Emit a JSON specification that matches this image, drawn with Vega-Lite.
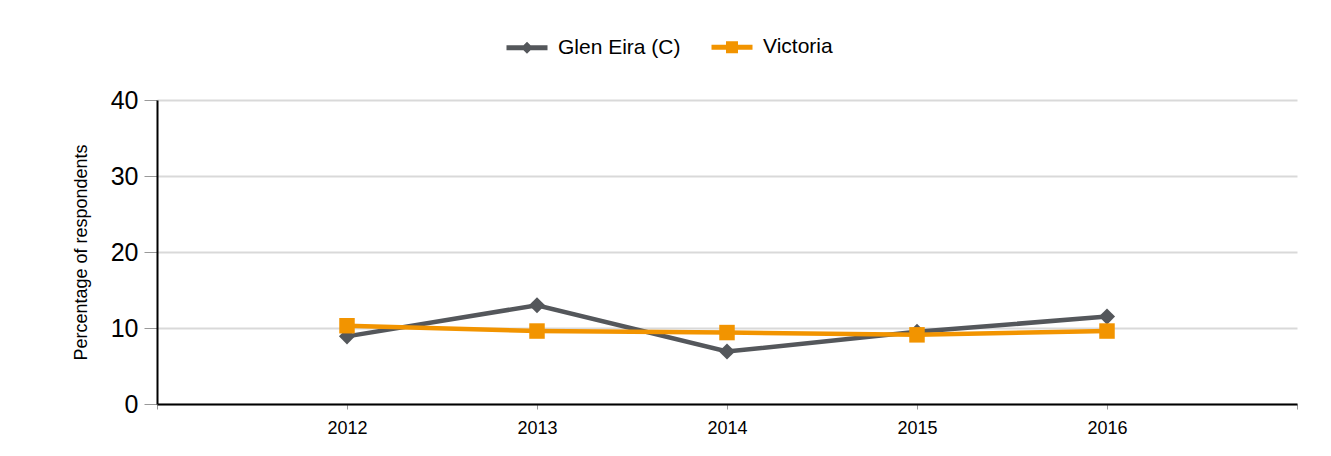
{
  "$schema": "https://vega.github.io/schema/vega-lite/v6.json",
  "width": 1140,
  "height": 304,
  "autosize": {"type": "none"},
  "padding": {"left": 157, "top": 100, "right": 34, "bottom": 52},
  "background": "white",
  "config": {
    "font": "Liberation Sans",
    "view": {"stroke": null},
    "axis": {"labelColor": "black", "titleColor": "black", "labelFont": "Liberation Sans", "titleFont": "Liberation Sans"}
  },
  "data": {
    "values": [
      {"year": 2012, "series": "Glen Eira (C)", "value": 8.9},
      {"year": 2013, "series": "Glen Eira (C)", "value": 13.0},
      {"year": 2014, "series": "Glen Eira (C)", "value": 6.9},
      {"year": 2015, "series": "Glen Eira (C)", "value": 9.5},
      {"year": 2016, "series": "Glen Eira (C)", "value": 11.5},
      {"year": 2012, "series": "Victoria", "value": 10.3},
      {"year": 2013, "series": "Victoria", "value": 9.6},
      {"year": 2014, "series": "Victoria", "value": 9.4},
      {"year": 2015, "series": "Victoria", "value": 9.1},
      {"year": 2016, "series": "Victoria", "value": 9.6}
    ]
  },
  "encoding": {
    "x": {
      "field": "year",
      "type": "quantitative",
      "scale": {"domain": [2011, 2017], "nice": false, "zero": false},
      "axis": {
        "values": [2011, 2012, 2013, 2014, 2015, 2016, 2017],
        "format": "d",
        "labelExpr": "datum.value == 2011 || datum.value == 2017 ? '' : datum.label",
        "title": null,
        "grid": false,
        "domainColor": "black",
        "domainWidth": 2,
        "tickColor": "#999999",
        "tickSize": 5,
        "labelFontSize": 18,
        "labelPadding": 10
      }
    },
    "y": {
      "field": "value",
      "type": "quantitative",
      "scale": {"domain": [0, 40], "nice": false},
      "axis": {
        "values": [0, 10, 20, 30, 40],
        "title": "Percentage of respondents",
        "titleFontSize": 18,
        "titleFontWeight": "normal",
        "titlePadding": 20,
        "labelFontSize": 25,
        "labelPadding": 6,
        "tickSize": 13,
        "tickColor": "#999999",
        "domainColor": "black",
        "domainWidth": 2,
        "gridColor": "#d9d9d9",
        "gridWidth": 2
      }
    },
    "color": {
      "field": "series",
      "type": "nominal",
      "scale": {"domain": ["Glen Eira (C)", "Victoria"], "range": ["#54575B", "#F29400"]},
      "legend": {
        "title": null,
        "orient": "none",
        "direction": "horizontal",
        "legendX": 347,
        "legendY": -76,
        "symbolSize": 1681,
        "symbolOpacity": 1,
        "labelFontSize": 21,
        "labelColor": "black",
        "labelOffset": 8,
        "columnPadding": 20,
        "labelLimit": 300,
        "encode": {
          "symbols": {
            "update": {
              "shape": {"signal": "datum.value === 'Glen Eira (C)' ? 'M-1,0H1M0,-0.12L0.12,0L0,0.12L-0.12,0Z' : 'M-1,0H1M-0.17,-0.17H0.17V0.17H-0.17Z'"},
              "fill": {"scale": "color", "field": "value"},
              "stroke": {"scale": "color", "field": "value"},
              "strokeWidth": {"value": 5},
              "opacity": {"value": 1}
            }
          }
        }
      }
    }
  },
  "layer": [
    {"mark": {"type": "line", "strokeWidth": 4.5}},
    {
      "transform": [{"filter": "datum.series === 'Glen Eira (C)'"}],
      "mark": {"type": "point", "filled": true, "opacity": 1, "shape": "diamond", "size": 260}
    },
    {
      "transform": [{"filter": "datum.series === 'Victoria'"}],
      "mark": {"type": "point", "filled": true, "opacity": 1, "shape": "square", "size": 240}
    }
  ]
}
